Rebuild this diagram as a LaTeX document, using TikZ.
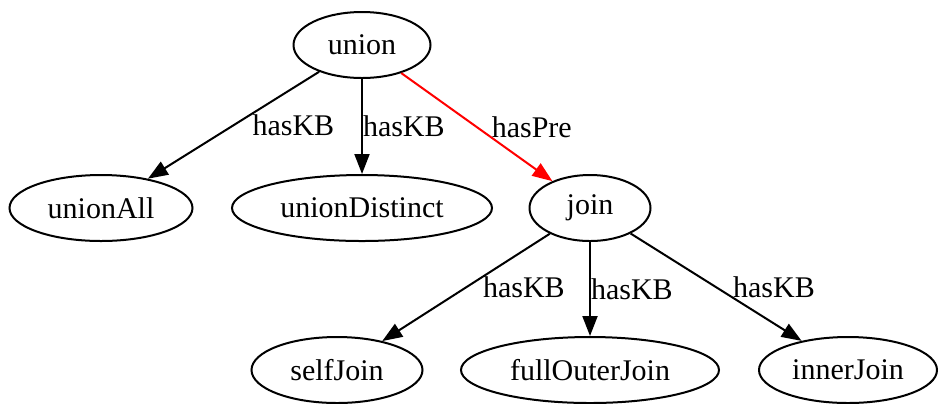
\documentclass[tikz,border=0pt]{standalone}
\usepackage{fontspec}
\setmainfont{Liberation Serif}
\usetikzlibrary{shapes.geometric,arrows.meta}

\tikzset{
    state/.style={draw, ellipse, line width=1pt, inner sep=0pt,
                  minimum height=33pt, font=\fontsize{15pt}{18pt}\selectfont},
    link/.style={line width=1pt, -{Triangle[length=10pt,width=7.5pt]}},
    lbl/.style={inner sep=0pt, anchor=west, font=\fontsize{15pt}{18pt}\selectfont},
}

\begin{document}
\begin{tikzpicture}[x=0.5pt,y=-0.5pt]
    \useasboundingbox (0,0) rectangle (940,403);

    \foreach \n/\x/\y/\w in {union/362/45/68.5pt, unionAll/101/208/91.5pt,
            unionDistinct/362/208/130pt, join/590/208/60.5pt,
            selfJoin/337/370/85.5pt, fullOuterJoin/590/370/129pt,
            innerJoin/848/370/89pt} {
        \node[state, minimum width=\w] (\n) at (\x,\y) {\n};
    }

    \foreach \a/\b/\s in {union/unionAll/9pt, union/unionDistinct/0pt,
            join/selfJoin/8pt, join/fullOuterJoin/0pt, join/innerJoin/8pt} {
        \draw[link] (\a) -- node[lbl, pos=0.5, xshift=\s] {hasKB} (\b);
    }
    \draw[link, red] (union) -- node[lbl, pos=0.5, xshift=7pt, text=black] {hasPre} (join);
\end{tikzpicture}
\end{document}
